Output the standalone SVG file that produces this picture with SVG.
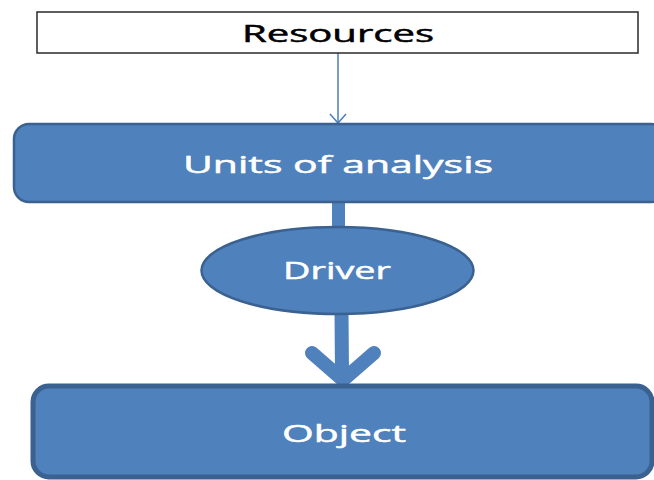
<svg xmlns="http://www.w3.org/2000/svg" width="654" height="480" viewBox="0 0 654 480">
<style>
.node{fill:#4F81BD;stroke:#3A6190;}
.lbl{font-family:"Open Sans","Noto Sans","DejaVu Sans",sans-serif;font-size:24px;text-anchor:middle;stroke-width:0.5;}
.w{fill:#FFFFFF;stroke:#FFFFFF;}
.k{fill:#000000;stroke:#000000;}
.thin{stroke:#4A7EBB;stroke-width:1.5;fill:none;}
.thick{stroke:#4F81BD;stroke-width:14;fill:none;stroke-linecap:round;stroke-linejoin:miter;}
</style>
<rect width="654" height="480" fill="#FFFFFF"/>
<g id="connectors">
  <line class="thin" x1="338" y1="53" x2="338" y2="123"/>
  <polyline class="thin" points="330,114 338,123 346,114"/>
  <line x1="338.5" y1="200" x2="338.5" y2="230" stroke="#4F81BD" stroke-width="13"/>
  <line x1="341.5" y1="312" x2="342" y2="374" stroke="#4F81BD" stroke-width="14"/>
  <polyline class="thick" points="312,353 343,380 374,353"/>
</g>
<g id="resources">
  <rect x="37" y="12" width="601" height="41" fill="#FFFFFF" stroke="#2A2A2A" stroke-width="1.5"/>
  <text class="lbl k" x="338" y="42" textLength="192" lengthAdjust="spacingAndGlyphs">Resources</text>
</g>
<g id="units">
  <rect class="node" x="14" y="124" width="652" height="78" rx="15" ry="15" stroke-width="2.5"/>
  <text class="lbl w" x="338" y="173" textLength="310" lengthAdjust="spacingAndGlyphs">Units of analysis</text>
</g>
<g id="driver">
  <ellipse class="node" cx="337.5" cy="270.5" rx="136" ry="43.5" stroke-width="2.5"/>
  <text class="lbl w" x="337" y="279" textLength="108" lengthAdjust="spacingAndGlyphs">Driver</text>
</g>
<g id="object">
  <rect class="node" x="33" y="386" width="619" height="91" rx="16" ry="16" stroke-width="5"/>
  <text class="lbl w" x="344" y="442" textLength="124" lengthAdjust="spacingAndGlyphs">Object</text>
</g>
</svg>
